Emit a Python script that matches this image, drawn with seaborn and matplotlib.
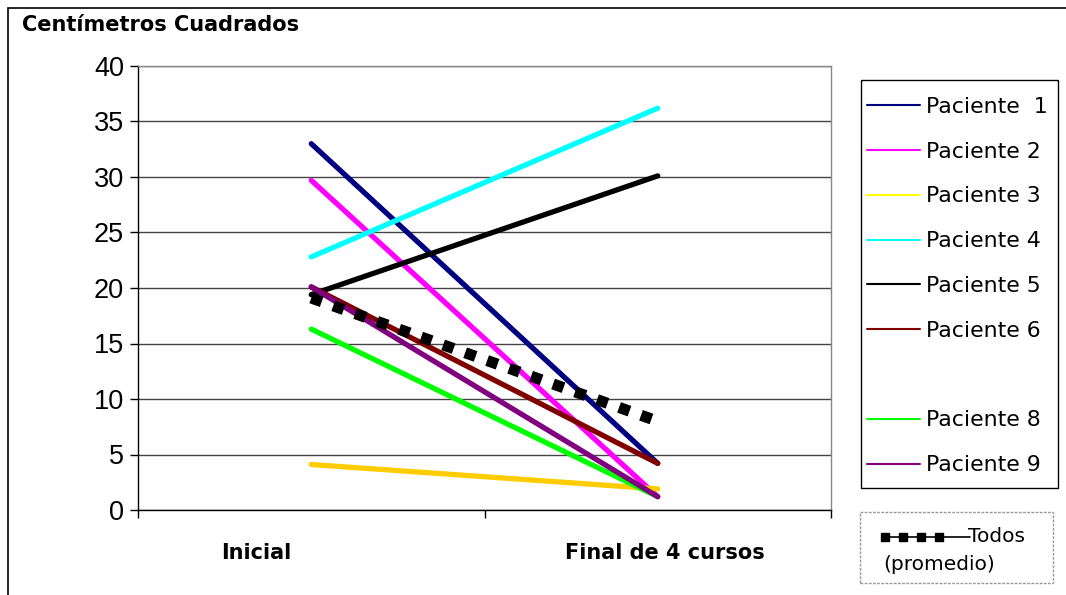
import matplotlib
matplotlib.use("Agg")
import matplotlib.pyplot as plt
import seaborn as sns
import pandas as pd
from matplotlib.lines import Line2D
from matplotlib.patches import Rectangle

# ---- data ----
categorias = ["Inicial", "Final de 4 cursos"]
pacientes = ["Paciente 1", "Paciente 2", "Paciente 3", "Paciente 4",
             "Paciente 5", "Paciente 6", "Paciente 8", "Paciente 9"]
inicial = [33.0, 29.7, 4.1, 22.8, 19.4, 20.1, 16.3, 20.1]
final = [4.2, 1.2, 1.9, 36.2, 30.1, 4.2, 1.2, 1.2]
todos = [19.1, 8.0]
colores = ["#000080", "#FF00FF", "#FFCC00", "#00FFFF",
           "#000000", "#800000", "#00FF00", "#800080"]
colores_leyenda = ["#000080", "#FF00FF", "#FFFF00", "#00FFFF",
                   "#000000", "#800000", "#00FF00", "#800080"]
yticks = [0, 5, 10, 15, 20, 25, 30, 35, 40]

rows = []
for p, a, b in zip(pacientes, inicial, final):
    rows.append({"paciente": p, "pos": 0, "valor": a})
    rows.append({"paciente": p, "pos": 1, "valor": b})
df = pd.DataFrame(rows)
df_todos = pd.DataFrame({"pos": [0, 1], "valor": todos})

sns.set_theme(style="white", rc={"text.color": "black", "xtick.color": "black",
                                 "ytick.color": "black", "axes.labelcolor": "black"})
plt.rcParams["font.family"] = ["DejaVu Sans"]

fig = plt.figure(figsize=(10.66, 5.95), dpi=100)
ax = fig.add_axes([138 / 1066, 1 - 510 / 595, (831 - 138) / 1066, (510 - 66) / 595])

sns.lineplot(data=df, x="pos", y="valor", hue="paciente", hue_order=pacientes,
             palette=dict(zip(pacientes, colores)), linewidth=3.8, legend=False,
             ax=ax, zorder=3)
sns.lineplot(data=df_todos, x="pos", y="valor", color="black", linewidth=8,
             ax=ax, zorder=4, legend=False)
ln = ax.get_lines()[-1]
ln.set_linestyle((0, (1, 1.1)))
ln.set_dash_capstyle("butt")

ax.set_xlim(-0.5, 1.5)
ax.set_ylim(0, 40)
ax.set_yticks(yticks)
ax.set_yticklabels([str(v) for v in yticks], fontsize=19.5, family="Liberation Sans")
ax.set_xticks([-0.5, 0.5, 1.5])
ax.set_xticklabels(["", "", ""])
ax.set_xticks([-0.16, 1.02], minor=True)
ax.set_xticklabels(categorias, minor=True, fontsize=15, fontweight="bold")
ax.tick_params(axis="x", which="minor", length=0, pad=24)
ax.tick_params(axis="x", which="major", length=6, width=1, color="black", direction="out", bottom=True)
ax.tick_params(axis="y", length=6, width=1, color="black", direction="out", left=True, pad=4)
ax.set_xlabel("")
ax.set_ylabel("")
ax.yaxis.grid(True, color="#444444", linewidth=1)
ax.xaxis.grid(False)
for s in ["top", "right"]:
    ax.spines[s].set_color("#888888")
    ax.spines[s].set_linewidth(1)
for s in ["left", "bottom"]:
    ax.spines[s].set_color("black")
    ax.spines[s].set_linewidth(1)

# legend
handles = []
labels = []
for p, c in zip(pacientes, colores_leyenda):
    if p == "Paciente 8":
        handles.append(Line2D([], [], color="none"))
        labels.append(" ")
    handles.append(Line2D([], [], color=c, linewidth=1.5))
    labels.append(p.replace("Paciente 1", "Paciente  1"))
leg = fig.legend(handles, labels, loc="upper left",
                 bbox_to_anchor=(857 / 1066, 1 - 87 / 595), frameon=False,
                 fontsize=15.8, handlelength=2.4, handletextpad=0.3,
                 labelspacing=1.13, borderpad=0.45, borderaxespad=0)
fig.patches.append(Rectangle((861 / 1066, 1 - 488 / 595), (1058 - 861) / 1066, (488 - 80) / 595,
                             transform=fig.transFigure, fill=False, edgecolor="black",
                             linewidth=1))

# second legend box (Todos promedio)
fig.patches.append(Rectangle((860 / 1066, 1 - 583 / 595), (1053 - 860) / 1066, (583 - 512) / 595,
                             transform=fig.transFigure, fill=False, edgecolor="#999999",
                             linestyle=(0, (2, 1)), linewidth=1))
fig.lines.append(Line2D([885 / 1066, 903 / 1066, 921 / 1066, 939 / 1066, 970 / 1066],
                        [1 - 537 / 595] * 5,
                        transform=fig.transFigure, color="black", linewidth=1.2,
                        marker="s", markersize=6, markevery=[0, 1, 2, 3]))
fig.text(968 / 1066, 1 - 537 / 595, "Todos", fontsize=14.5, va="center", ha="left")
fig.text(883 / 1066, 1 - 564 / 595, "(promedio)", fontsize=14.5, va="center", ha="left")

# title
fig.text(22 / 1066, 1 - 25 / 595, "Centímetros Cuadrados", fontsize=15,
         fontweight="bold", va="center", ha="left")

# outer chart border
fig.patches.append(Rectangle((8 / 1066, -0.1), 1.2, 1 - 8 / 595 + 0.1,
                             transform=fig.transFigure, fill=False,
                             edgecolor="black", linewidth=1.2))

fig.savefig("out.png", dpi=100)
